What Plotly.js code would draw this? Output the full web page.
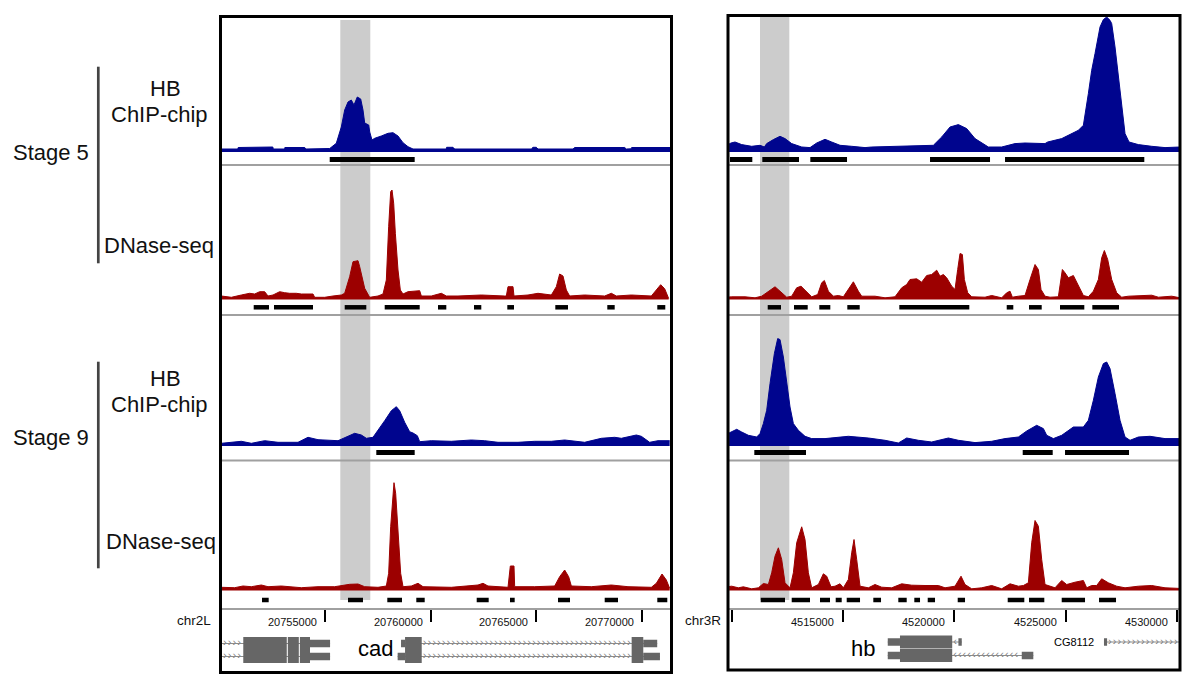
<!DOCTYPE html>
<html>
<head>
<meta charset="utf-8">
<script src="https://cdn.plot.ly/plotly-3.0.1.min.js"></script>
<style>
html,body{margin:0;padding:0;background:#ffffff;}
#chart{width:1200px;height:687px;}
</style>
</head>
<body>
<div id="chart"></div>
<script>
// ---------------- genomic windows & axis ticks ----------------
const leftChrom = 'chr2L';
const rightChrom = 'chr3R';
const leftWindow = [20750123, 20771336];
const rightWindow = [4509856, 4530106];
const leftTicks = [20755000, 20760000, 20765000, 20770000];
const leftTickText = ['20755000', '20760000', '20765000', '20770000'];
const rightTicks = [4510000, 4515000, 4520000, 4525000, 4530000];
const rightTickText = ['', '4515000', '4520000', '4525000', '4530000'];
const leftHighlight = [20755724, 20757145];
const rightHighlight = [4511251, 4512570];

// ---------------- left window (cad) signals ----------------
const hb5L_x = [20750120,20750870,20750890,20752140,20752160,20752530,20752550,20753090,20753100,20754040,20754110,20755140,20755223,20755535,20755772,20755933,20756089,20756245,20756373,20756529,20756690,20756799,20756880,20757069,20757117,20757225,20757353,20757666,20757983,20758220,20758457,20758693,20758930,20759167,20760744,20760760,20761061,20761141,20764768,20764849,20765005,20765086,20766743,20766823,20769191,20769267,20769503,20769520,20771340];
const hb5L_y = [3,3,4.5,4.5,5,5,3,3,4.5,4.5,3,3,3.5,8.7,25,42,50,52,47,55,53,42,29,27,20,12,13.7,16,18.7,19.3,16,9.3,5.3,3,3,4.7,4.7,3,3,4.7,4.7,3,3,4.5,4.5,3,3.2,4.5,4.5];

const dn5L_x = [20750092,20750565,20751039,20751433,20751670,20751907,20752144,20752301,20752538,20752854,20753091,20753327,20753643,20753880,20754195,20754432,20754511,20754985,20755379,20755774,20755932,20756168,20756326,20756563,20756642,20756879,20757115,20757510,20757747,20757904,20758015,20758110,20758173,20758252,20758331,20758457,20758567,20758694,20758930,20759246,20759483,20759562,20760035,20760509,20760745,20761298,20762403,20763507,20763586,20763665,20763902,20763949,20764612,20765086,20765717,20765954,20766112,20766269,20766427,20766585,20767295,20768242,20768558,20768795,20769505,20770452,20770689,20770894,20771083,20771273];
const dn5L_y = [3.5,2.2,4.5,6.2,5.5,7.8,7.8,3.5,4.5,7.8,6.8,6.2,6.2,5.5,5.5,5.5,2.2,2.2,3.5,4.5,6.2,22.8,37.8,38.8,32.8,11.2,2.2,3.5,5.5,19.5,72.8,107.8,109.5,96.2,66.2,29.5,9.5,5.5,7.8,8.8,8.8,3.5,3.5,6.2,3.5,3.5,4.5,3.5,3.5,12.8,12.8,3.5,4.5,6.2,4.5,12.8,25.5,23.5,9.5,3.5,4.5,3.5,6.2,3.5,4.5,3.5,9.5,14.8,10.8,1];

const hb9L_x = [20750092,20751039,20751512,20752144,20752775,20753722,20754195,20754669,20755616,20756089,20756405,20756721,20756957,20757273,20757510,20757826,20758141,20758378,20758536,20758772,20759009,20759167,20759372,20759483,20760035,20760982,20761929,20762560,20763192,20764139,20764928,20765717,20766348,20767295,20768084,20768716,20769031,20769742,20769978,20770373,20770768,20771320];
const hb9L_y = [2.7,4.7,2.7,5.3,3.7,3.7,8.7,6.3,5.3,9.7,12.7,11,7.7,8.7,15.3,25.3,35.3,39.3,35.3,23.7,14.3,13,10.3,4.3,5.3,4.7,6,5.3,3.7,3.7,4.7,4.7,6,3.7,7.7,8.7,7.7,11,9.7,3.7,5.3,5.3];

const dn9L_x = [20750092,20750723,20751118,20751512,20751986,20752301,20752933,20753880,20754669,20755458,20756168,20756563,20756879,20757510,20757904,20758015,20758110,20758220,20758267,20758346,20758457,20758583,20758694,20759088,20759404,20759641,20760982,20762245,20762481,20762718,20763665,20763776,20763949,20763981,20764928,20765875,20766112,20766348,20766538,20766664,20767611,20768558,20769347,20770452,20770689,20770958,20771163,20771320];
const dn9L_y = [3.2,2.8,4.5,3.8,5.5,3.8,4.5,2.8,3.8,3.8,6.2,6.5,3.8,3.2,4.5,17.2,63.8,90.5,107.8,97.2,57.2,17.2,3.8,4.5,7.2,3.8,3.2,5.5,7.2,4.5,3.2,24.5,24.5,3.8,3.8,4.5,13.8,20.5,13.8,4.5,3.8,5.5,3.8,3.2,7.2,16.5,10.5,2.2];

// ---------------- right window (hb) signals ----------------
const hb5R_x = [4509860,4509947,4510127,4510427,4510877,4511252,4511447,4511552,4511852,4512152,4512377,4512677,4513127,4513502,4513802,4514177,4514477,4514852,4515377,4515977,4516277,4517627,4519052,4519427,4519802,4520177,4520552,4520927,4521527,4522127,4522727,4523177,4524077,4524197,4524827,4525577,4525802,4526027,4526177,4526327,4526552,4526702,4526852,4527002,4527077,4527227,4527377,4527527,4527677,4527857,4528127,4528277,4528877,4529477,4530152];
const hb5R_y = [8,9,10,7.4,5.7,6.7,5,8.4,12.4,15.7,13.4,8.4,5,4.4,9,12.7,10,6.7,5.7,4.4,5,5.7,6.7,15,25,27.4,23.4,13.4,5,5,8.4,9,8.4,10,13.4,21.7,26.7,58.4,81.7,98.4,125,132.4,135,131.7,128.4,105,75,41.7,18.4,10,8.4,7.4,5.7,4.4,5];

const dn5R_x = [4509860,4509977,4510577,4511027,4511327,4511627,4511927,4512152,4512452,4512677,4512902,4513097,4513352,4513577,4513847,4514027,4514147,4514327,4514552,4514777,4515002,4515227,4515452,4515677,4515827,4516427,4516877,4517327,4517627,4517852,4518002,4518302,4518527,4518752,4518977,4519202,4519352,4519502,4519652,4519877,4520027,4520147,4520252,4520357,4520447,4520597,4520777,4521377,4521677,4522127,4522352,4522502,4522607,4522877,4523177,4523402,4523627,4523777,4523897,4524077,4524302,4524677,4524857,4524977,4525127,4525352,4525577,4525802,4526027,4526252,4526477,4526627,4526747,4526897,4527077,4527302,4527527,4527827,4528877,4529177,4529777,4530152];
const dn5R_y = [2.5,2.7,2.7,1.7,3.3,8.3,12.7,8.3,2.3,3.3,11.7,13.3,7.3,2.7,5,16.7,19,8.3,3.3,4,2.7,10,17.7,8.3,3.3,3.3,1.7,2.7,11.7,15,20,20.7,17.3,24,25,29.3,23.3,25,21.7,13.3,10,30,46,45,20,6.7,2.7,2.3,4,1.7,6.7,8.3,2.3,3.3,4,20,35,30,10,3.3,2.3,2.7,30,26.7,21.7,24,13.3,4,2.7,8.3,20,41.7,49,40,20,6.7,2.3,3.3,4.3,2.3,3.3,1.7];

const hb9R_x = [4509860,4509977,4510202,4510427,4510727,4511102,4511252,4511402,4511552,4511702,4511897,4512047,4512152,4512302,4512452,4512602,4512752,4512977,4513277,4513577,4514177,4515227,4516127,4516877,4517477,4517852,4518377,4518977,4519727,4520177,4520927,4521677,4522277,4522877,4523252,4523702,4524002,4524152,4524452,4524827,4525352,4525802,4526027,4526252,4526477,4526702,4526852,4527002,4527227,4527452,4527677,4527902,4528277,4528802,4529477,4530152];
const hb9R_y = [13,14,16.7,14,10.7,9,12.4,22.4,35.7,62.4,92.4,107.4,106.4,89,62.4,39,22.4,15.7,9.7,7.4,7.4,9.7,8,5.7,3,8,5.7,4,8,5.7,3.4,4.7,7.4,9,15,20.7,17.4,10.7,7.4,10.7,19,19,25.7,45.7,69,82.4,84,77.4,52.4,25.7,9,5.7,9,9.7,7.4,7.4];

const dn9R_x = [4509860,4509977,4510277,4510502,4510877,4511177,4511402,4511627,4511777,4511927,4512077,4512227,4512377,4512602,4512752,4512902,4513127,4513277,4513427,4513577,4513877,4514102,4514252,4514447,4514627,4514852,4515002,4515227,4515377,4515482,4515602,4515752,4516127,4516427,4516727,4517177,4517627,4518077,4518677,4519277,4519577,4520027,4520297,4520477,4520777,4521227,4521677,4522127,4522502,4522877,4523102,4523327,4523477,4523627,4523777,4523927,4524077,4524527,4524827,4525052,4525427,4525802,4525952,4526177,4526402,4526627,4526927,4527302,4527677,4528277,4528877,4529477,4530227];
const dn9R_y = [4,4.3,2.7,3.7,1.7,2.7,7,6,17.7,34.3,42.7,31,7.7,2.7,17.7,47.7,63.7,51,17.7,2.7,6,16.7,14.3,3.7,4.3,6.7,2.7,11,37.7,51,31,4.3,2.7,6,3.3,2.7,6.7,5.3,5,5,2.7,4.3,14.3,6,1.7,2.7,5,1.7,6.7,4.3,5,7.7,47.7,70,64.3,31,6,2.7,10,6,8.3,10,2.7,5,5,11.7,7.7,4.3,2.7,4.3,5,2.7,2];

// ---------------- enriched regions (peak calls) ----------------
const hb5L_starts = [20755223];
const hb5L_ends   = [20759247];
const dn5L_starts = [20751624,20752585,20755933,20757827,20760351,20762055,20763632,20765905,20768367,20770734];
const dn5L_ends   = [20752348,20754432,20756956,20759484,20760744,20762401,20763949,20766506,20768717,20771113];
const hb9L_starts = [20757429];
const hb9L_ends   = [20759247];
const dn9L_starts = [20752017,20756089,20757950,20759323,20762183,20763760,20766033,20768244,20770734];
const dn9L_ends   = [20752334,20756799,20758646,20759721,20762751,20763982,20766601,20768874,20771208];

const hb5R_starts = [4509901,4511355,4513515,4518902,4522277];
const hb5R_ends   = [4510905,4513006,4515167,4521602,4528545];
const dn5R_starts = [4511598,4512781,4513920,4515180,4517520,4522353,4523357,4524752,4526205];
const dn5R_ends   = [4512196,4513398,4514415,4515738,4520670,4522650,4523928,4525845,4527407];
const hb9R_starts = [4510995,4523073,4524977];
const hb9R_ends   = [4513321,4524423,4527857];
const dn9R_starts = [4511283,4512678,4513951,4514658,4515153,4516350,4517475,4518195,4518798,4520148,4522398,4523357,4524828,4526507];
const dn9R_ends   = [4512376,4513501,4514401,4514928,4515752,4516697,4517853,4518452,4519127,4520477,4523145,4524045,4525877,4527272];

// ---------------- gene models ----------------
const geneNames = ['cad', 'hb', 'CG8112'];
const upGeneSpan  = [20749000, 20755240];
const upGeneThick = [[20751130,20753190],[20753240,20753760],[20753810,20754290]];
const upGeneThin  = [[20754290,20755240]];
const cadThick    = [[20758790,20759580],[20769520,20770070]];
const cadT1Span   = [20758600, 20770730];
const cadT1Thin   = [[20758600,20758790],[20770070,20770730]];
const cadT2Span   = [20758440, 20770860];
const cadT2Thin   = [[20758440,20758790],[20770070,20770860]];
const hbThick     = [[4517550,4519900]];
const hbT1Span    = [4517000, 4520330];
const hbT1Thin    = [[4517000,4517550],[4520180,4520330]];
const hbT2Span    = [4517000, 4523550];
const hbT2Thin    = [[4517000,4517550],[4523030,4523550]];
const cg8112Span  = [4526730, 4531500];
const cg8112Thin  = [[4526730,4526870]];

// ---------------- page geometry ----------------
const W = 1200, H = 687;
const fx = p => p / W;
const fy = p => 1 - p / H;

const CHIP = '#00058e', DNASE = '#9c0000';
const bands = [
  {top:17,  base:152,   sep:165,   barY:-7.5, barW:5,   color:CHIP},
  {top:168, base:299.5, sep:315,   barY:-7.8, barW:4.5, color:DNASE},
  {top:318, base:446,   sep:460.5, barY:-6.5, barW:5,   color:CHIP},
  {top:463, base:590.5, sep:609.5, barY:-9.5, barW:4.5, color:DNASE}
];
const geneTop = 609.5, geneBottom = 672;

const panels = [
  {x0:222, x1:670, xa:'x', xkey:'xaxis', range:leftWindow, ticks:leftTicks, tickText:leftTickText, tickShift:-6,
   yStart:1, geneAx:9, chrom:leftChrom, chromX:213, box:[220.5,16.5,671.5,672.5], hl:leftHighlight, hlTop:20,
   signals:[[hb5L_x,hb5L_y],[dn5L_x,dn5L_y],[hb9L_x,hb9L_y],[dn9L_x,dn9L_y]],
   peaks:[[hb5L_starts,hb5L_ends],[dn5L_starts,dn5L_ends],[hb9L_starts,hb9L_ends],[dn9L_starts,dn9L_ends]],
   rows:{1:34, 2:47}, step:225,
   tx:[{span:upGeneSpan,thick:upGeneThick,thin:upGeneThin,strand:1,row:1},
       {span:upGeneSpan,thick:upGeneThick,thin:upGeneThin,strand:1,row:2},
       {span:cadT1Span,thick:cadThick,thin:cadT1Thin,strand:1,row:1},
       {span:cadT2Span,thick:cadThick,thin:cadT2Thin,strand:1,row:2}],
   labels:[{name:geneNames[0], x:cadT2Span[0], shift:-3, y:38.8, size:22}]
  },
  {x0:729, x1:1179, xa:'x2', xkey:'xaxis2', range:rightWindow, ticks:rightTicks, tickText:rightTickText, tickShift:-7,
   yStart:5, geneAx:10, chrom:rightChrom, chromX:722.5, box:[728,15.5,1180,670], hl:rightHighlight, hlTop:17,
   signals:[[hb5R_x,hb5R_y],[dn5R_x,dn5R_y],[hb9R_x,hb9R_y],[dn9R_x,dn9R_y]],
   peaks:[[hb5R_starts,hb5R_ends],[dn5R_starts,dn5R_ends],[hb9R_starts,hb9R_ends],[dn9R_starts,dn9R_ends]],
   rows:{1:32.5, 2:46}, step:212,
   tx:[{span:hbT1Span,thick:hbThick,thin:hbT1Thin,strand:-1,row:1},
       {span:hbT2Span,thick:hbThick,thin:hbT2Thin,strand:-1,row:2},
       {span:cg8112Span,thick:[],thin:cg8112Thin,strand:1,row:1}],
   labels:[{name:geneNames[1], x:hbT1Span[0], shift:-11, y:38.8, size:22},
           {name:geneNames[2], x:cg8112Span[0], shift:-8, y:32.2, size:11}]
  }
];

const layout = {
  width: W, height: H,
  margin: {l:0, r:0, t:0, b:0},
  paper_bgcolor: '#ffffff',
  plot_bgcolor: 'rgba(0,0,0,0)',
  showlegend: false,
  font: {family: 'Arial, "Liberation Sans", Helvetica, sans-serif', color: '#000'},
  shapes: [], annotations: []
};
const traces = [];
const axName = n => (n === 1 ? 'y' : 'y' + n);
const axKey = n => (n === 1 ? 'yaxis' : 'yaxis' + n);

panels.forEach(p => {
  // x axis drawn as the coordinate ruler at the top of the gene strip
  layout[p.xkey] = {
    domain: [fx(p.x0), fx(p.x1)], range: p.range, anchor: axName(p.geneAx), side: 'top',
    showline: true, linecolor: '#a0a0a0', linewidth: 2,
    ticks: 'inside', ticklen: 12, tickwidth: 2, tickcolor: '#000',
    tickmode: 'array', tickvals: p.ticks, showticklabels: false,
    showgrid: false, zeroline: false, fixedrange: true
  };
  p.ticks.forEach((t, i) => {
    if (!p.tickText[i]) return;
    layout.annotations.push({xref: p.xa, x: t, xanchor: 'right', xshift: p.tickShift,
      yref: 'paper', y: fy(621.5), yanchor: 'middle', text: p.tickText[i], showarrow: false,
      font: {size: 11, color: '#111'}});
  });
  layout.annotations.push({xref: 'paper', x: fx(p.chromX), xanchor: 'right', yref: 'paper', y: fy(620.5),
    yanchor: 'middle', text: p.chrom, showarrow: false, font: {size: 13.5, color: '#111'}});

  // signal tracks
  bands.forEach((b, i) => {
    const n = p.yStart + i;
    layout[axKey(n)] = {domain: [fy(b.sep), fy(b.top)], range: [b.base - b.sep, b.base - b.top],
      anchor: p.xa, visible: false, fixedrange: true};
    const [sx, sy] = p.signals[i];
    traces.push({type: 'scatter', mode: 'lines', x: sx, y: sy, xaxis: p.xa, yaxis: axName(n),
      fill: 'tozeroy', fillcolor: b.color, line: {color: b.color, width: 1}, hoverinfo: 'skip'});
    const [st, en] = p.peaks[i];
    const bx = [], by = [];
    st.forEach((s, k) => { bx.push(s, en[k], null); by.push(b.barY, b.barY, null); });
    traces.push({type: 'scatter', mode: 'lines', x: bx, y: by, xaxis: p.xa, yaxis: axName(n),
      line: {color: '#000', width: b.barW}, hoverinfo: 'skip'});
    if (i < 3) {
      layout.shapes.push({type: 'line', xref: 'paper', yref: 'paper', x0: fx(p.x0), x1: fx(p.x1),
        y0: fy(b.sep), y1: fy(b.sep), line: {color: '#a0a0a0', width: 2}});
    }
  });

  // gene strip axis
  layout[axKey(p.geneAx)] = {domain: [fy(geneBottom), fy(geneTop)], range: [geneBottom - geneTop, 0],
    anchor: p.xa, visible: false, fixedrange: true};
  const gy = axName(p.geneAx);
  const chevX = [], chevY = [], chevT = [];
  const lo = p.range[0], hi = p.range[1];
  p.tx.forEach(t => {
    const y = p.rows[t.row];
    layout.shapes.push({type: 'line', xref: p.xa, yref: gy, x0: Math.max(t.span[0], lo), x1: Math.min(t.span[1], hi),
      y0: y, y1: y, line: {color: '#8a8a8a', width: 1}});
    t.thin.forEach(([s, e]) => layout.shapes.push({type: 'rect', xref: p.xa, yref: gy, x0: s, x1: e,
      y0: y - 3.7, y1: y + 3.7, fillcolor: '#666666', line: {width: 0}}));
    t.thick.forEach(([s, e]) => layout.shapes.push({type: 'rect', xref: p.xa, yref: gy, x0: s, x1: e,
      y0: y - 6.5, y1: y + 6.5, fillcolor: '#666666', line: {width: 0}}));
    // strand chevrons along the uncovered (intronic / flanking) parts of the transcript line
    const ex = t.thick.concat(t.thin).slice().sort((a, b) => a[0] - b[0]);
    let cur = t.span[0];
    const gaps = [];
    ex.forEach(([s, e]) => { if (s > cur) gaps.push([cur, s]); cur = Math.max(cur, e); });
    if (t.span[1] > cur) gaps.push([cur, t.span[1]]);
    gaps.forEach(([a, z]) => {
      for (let q = a + p.step * 0.6; q < z - p.step * 0.3; q += p.step) {
        if (q < lo + p.step * 0.3 || q > hi - p.step * 0.5) continue;
        chevX.push(q); chevY.push(y); chevT.push(t.strand > 0 ? '›' : '‹');
      }
    });
  });
  traces.push({type: 'scatter', mode: 'text', x: chevX, y: chevY, text: chevT, xaxis: p.xa, yaxis: gy,
    textposition: 'middle center', textfont: {size: 11, color: '#777777'}, hoverinfo: 'skip', cliponaxis: true});
  p.labels.forEach(l => layout.annotations.push({xref: p.xa, x: l.x, xanchor: 'right', xshift: l.shift,
    yref: gy, y: l.y, yanchor: 'middle', text: l.name, showarrow: false, font: {size: l.size, color: '#000'}}));

  // highlighted region (below the data)
  layout.shapes.push({type: 'rect', xref: p.xa, yref: 'paper', x0: p.hl[0], x1: p.hl[1],
    y0: fy(600), y1: fy(p.hlTop), fillcolor: '#cccccc', line: {width: 0}, layer: 'below'});
  // panel frame
  layout.shapes.push({type: 'rect', xref: 'paper', yref: 'paper', x0: fx(p.box[0]), x1: fx(p.box[2]),
    y0: fy(p.box[3]), y1: fy(p.box[1]), line: {color: '#000', width: 3}, fillcolor: 'rgba(0,0,0,0)'});
});

// ---------------- row labels on the left ----------------
const stageLabels = ['Stage 5', 'Stage 9'];
const assayLabels = ['HB', 'ChIP-chip', 'DNase-seq'];
const leftText = [
  [stageLabels[0], 50.8, 152], [assayLabels[0], 165, 88], [assayLabels[1], 159.5, 114.5], [assayLabels[2], 158.7, 245],
  [stageLabels[1], 50.8, 437], [assayLabels[0], 165, 378.3], [assayLabels[1], 159.5, 404.5], [assayLabels[2], 160.5, 541.7]
];
leftText.forEach(([t, x, y]) => layout.annotations.push({xref: 'paper', yref: 'paper', x: fx(x), y: fy(y),
  xanchor: 'center', yanchor: 'middle', text: t, showarrow: false, font: {size: 22, color: '#111'}}));
[[66.7, 263.3], [361.7, 568.3]].forEach(([a, b]) => layout.shapes.push({type: 'line', xref: 'paper', yref: 'paper',
  x0: fx(98.3), x1: fx(98.3), y0: fy(a), y1: fy(b), line: {color: '#444', width: 2.7}}));

Plotly.newPlot('chart', traces, layout, {staticPlot: true, displayModeBar: false});
</script>
</body>
</html>
